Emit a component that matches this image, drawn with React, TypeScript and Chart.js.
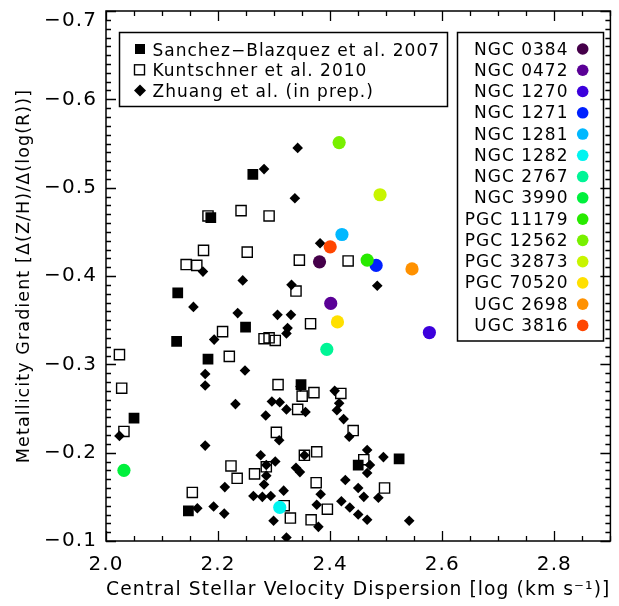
import { useEffect, useRef } from 'react';
import { Chart, registerables } from 'chart.js';

Chart.register(...registerables);

const FONT = '"DejaVu Sans", sans-serif';

// Sanchez-Blazquez et al. 2007 (filled squares)
const sanchezSigma = [2.262, 2.187, 2.128, 2.249, 2.126, 2.182, 2.050, 2.348, 2.147, 2.450, 2.523];
const sanchezGrad = [-0.515, -0.466, -0.381, -0.342, -0.326, -0.306, -0.239, -0.277, -0.134, -0.186, -0.193];

// Kuntschner et al. 2010 (open squares)
const kuntschnerSigma = [
  2.182, 2.241, 2.291, 2.174, 2.252, 2.143, 2.162, 2.345, 2.432, 2.339,
  2.208, 2.024, 2.220, 2.028, 2.032, 2.365, 2.282, 2.291, 2.302, 2.307,
  2.350, 2.371, 2.419, 2.342, 2.304, 2.441, 2.354, 2.376, 2.460, 2.265,
  2.286, 2.375, 2.497, 2.318, 2.395, 2.329, 2.366, 2.223, 2.234, 2.154,
];
const kuntschnerGrad = [
  -0.468, -0.474, -0.468, -0.429, -0.427, -0.413, -0.412, -0.418, -0.417, -0.383,
  -0.337, -0.311, -0.309, -0.273, -0.224, -0.346, -0.329, -0.330, -0.327, -0.277,
  -0.264, -0.268, -0.267, -0.249, -0.223, -0.225, -0.197, -0.201, -0.192, -0.176,
  -0.184, -0.166, -0.160, -0.140, -0.136, -0.126, -0.124, -0.185, -0.171, -0.155,
];

// Zhuang et al. (in prep.) (diamonds)
const zhuangSigma = [
  2.342, 2.282, 2.337, 2.173, 2.244, 2.331, 2.382, 2.484, 2.156, 2.235,
  2.306, 2.330, 2.324, 2.322, 2.193, 2.177, 2.248, 2.177, 2.231, 2.347,
  2.408, 2.296, 2.310, 2.322, 2.356, 2.285, 2.416, 2.412, 2.424, 2.024,
  2.177, 2.309, 2.434, 2.276, 2.286, 2.302, 2.339, 2.346, 2.354, 2.466,
  2.495, 2.471, 2.466, 2.286, 2.282, 2.212, 2.263, 2.279, 2.294, 2.317,
  2.383, 2.427, 2.450, 2.460, 2.486, 2.376, 2.420, 2.435, 2.450, 2.466,
  2.541, 2.163, 2.192, 2.211, 2.299, 2.379, 2.322,
];
const zhuangGrad = [
  -0.545, -0.521, -0.488, -0.405, -0.395, -0.390, -0.437, -0.389, -0.365, -0.358,
  -0.356, -0.356, -0.341, -0.335, -0.328, -0.289, -0.293, -0.276, -0.255, -0.275,
  -0.270, -0.258, -0.257, -0.249, -0.246, -0.242, -0.256, -0.248, -0.238, -0.219,
  -0.208, -0.214, -0.218, -0.197, -0.186, -0.190, -0.183, -0.178, -0.197, -0.203,
  -0.195, -0.186, -0.177, -0.174, -0.164, -0.161, -0.151, -0.150, -0.151, -0.157,
  -0.153, -0.169, -0.160, -0.150, -0.149, -0.141, -0.145, -0.138, -0.130, -0.124,
  -0.123, -0.137, -0.139, -0.131, -0.123, -0.116, -0.104,
];

// Individual galaxies (coloured circles)
const galaxyNames = [
  'NGC 0384', 'NGC 0472', 'NGC 1270', 'NGC 1271', 'NGC 1281', 'NGC 1282', 'NGC 2767',
  'NGC 3990', 'PGC 11179', 'PGC 12562', 'PGC 32873', 'PGC 70520', 'UGC 2698', 'UGC 3816',
];
const galaxySigma = [2.381, 2.401, 2.577, 2.482, 2.421, 2.310, 2.394, 2.032, 2.466, 2.416, 2.489, 2.413, 2.546, 2.400];
const galaxyGrad = [-0.416, -0.369, -0.336, -0.412, -0.447, -0.138, -0.317, -0.180, -0.418, -0.551, -0.492, -0.348, -0.408, -0.433];
const galaxyColors = [
  '#45004a', '#5a0096', '#3c00dc', '#0020ff', '#00b8ff', '#00f4f0', '#00f596',
  '#00f03c', '#28ea00', '#78f000', '#c8f500', '#ffe000', '#ff9100', '#ff4600',
];

const surveyLabels = ['Sanchez\u2212Blazquez et al. 2007', 'Kuntschner et al. 2010', 'Zhuang et al. (in prep.)'];

const xTickValues = [2.0, 2.2, 2.4, 2.6, 2.8];
const yTickValues = [-0.7, -0.6, -0.5, -0.4, -0.3, -0.2, -0.1];

const xTitle = 'Central Stellar Velocity Dispersion [log (km s\u207B\u00B9)]';
const yTitle = 'Metallicity Gradient [\u0394(Z/H)/\u0394(log(R))]';

const pts = (xs: number[], ys: number[]) => xs.map((x, i) => ({ x, y: ys[i] }));
const fmt = (v: number) => (v < 0 ? '\u2212' : '') + Math.abs(v).toFixed(1);

// Wide letter spacing for every piece of text on the canvas
const spacingPlugin = {
  id: 'spacing',
  beforeDraw(chart: any) {
    chart.ctx.letterSpacing = '1.1px';
  },
};

// Frame with inward major/minor ticks on all four sides, plus the two legend boxes
const framePlugin = {
  id: 'frame',
  afterDraw(chart: any) {
    const { ctx, chartArea: a, scales } = chart;
    const xs = scales.x;
    const ys = scales.y;
    ctx.save();
    ctx.strokeStyle = '#000';
    ctx.lineWidth = 1.5;
    ctx.strokeRect(a.left, a.top, a.right - a.left, a.bottom - a.top);

    ctx.lineWidth = 1.3;
    ctx.beginPath();
    for (let i = 0; i <= 18; i++) {
      const v = 2.0 + i * 0.05;
      const px = Math.round(xs.getPixelForValue(v)) + 0.5;
      const len = i % 4 === 0 ? 10 : 5;
      ctx.moveTo(px, a.bottom);
      ctx.lineTo(px, a.bottom - len);
      ctx.moveTo(px, a.top);
      ctx.lineTo(px, a.top + len);
    }
    for (let i = 0; i <= 60; i++) {
      const v = -0.7 + i * 0.01;
      const py = Math.round(ys.getPixelForValue(v)) + 0.5;
      const len = i % 10 === 0 ? 10 : 5;
      ctx.moveTo(a.left, py);
      ctx.lineTo(a.left + len, py);
      ctx.moveTo(a.right, py);
      ctx.lineTo(a.right - len, py);
    }
    ctx.stroke();

    ctx.letterSpacing = '1px';

    // survey legend
    const l1x = a.left + 13.5;
    const l1y = a.top + 21.5;
    ctx.lineWidth = 1.5;
    ctx.strokeRect(l1x, l1y, 328, 74);
    ctx.font = `17px ${FONT}`;
    ctx.fillStyle = '#000';
    ctx.textBaseline = 'alphabetic';
    ctx.textAlign = 'left';
    surveyLabels.forEach((label, i) => {
      const base = l1y + 23 + i * 20.8;
      const cx = l1x + 20.5;
      const cy = base - 6.5;
      if (i === 0) {
        ctx.fillRect(cx - 5, cy - 5, 10, 10);
      } else if (i === 1) {
        ctx.lineWidth = 1.4;
        ctx.strokeRect(cx - 5.5, cy - 5, 10, 10);
      } else {
        ctx.beginPath();
        ctx.moveTo(cx, cy - 6);
        ctx.lineTo(cx + 6, cy);
        ctx.lineTo(cx, cy + 6);
        ctx.lineTo(cx - 6, cy);
        ctx.closePath();
        ctx.fill();
      }
      ctx.fillText(label, l1x + 33, base);
    });

    // galaxy legend
    const l2x = a.left + 351.5;
    const l2y = a.top + 21.5;
    ctx.lineWidth = 1.5;
    ctx.strokeRect(l2x, l2y, 146, 308.5);
    ctx.textAlign = 'right';
    galaxyNames.forEach((name, i) => {
      const base = l2y + 22 + i * 21.26;
      ctx.fillStyle = '#000';
      ctx.fillText(name, l2x + 111, base);
      ctx.fillStyle = galaxyColors[i];
      ctx.beginPath();
      ctx.arc(l2x + 125.2, base - 5.5, 5.8, 0, Math.PI * 2);
      ctx.fill();
    });
    ctx.restore();
  },
};

export default function App() {
  const ref = useRef<HTMLCanvasElement>(null);

  useEffect(() => {
    if (!ref.current) return;
    const chart = new Chart(ref.current, {
      type: 'scatter',
      data: {
        datasets: [
          {
            label: galaxyNames.join(', '),
            data: pts(galaxySigma, galaxyGrad),
            pointStyle: 'circle',
            pointRadius: 6.6,
            pointBackgroundColor: galaxyColors,
            pointBorderWidth: 0,
            order: 0,
          },
          {
            label: surveyLabels[2],
            data: pts(zhuangSigma, zhuangGrad),
            pointStyle: 'rectRot',
            pointRadius: 5.3,
            pointBackgroundColor: '#000',
            pointBorderWidth: 0,
            order: 1,
          },
          {
            label: surveyLabels[0],
            data: pts(sanchezSigma, sanchezGrad),
            pointStyle: 'rect',
            pointRadius: 7.6,
            pointBackgroundColor: '#000',
            pointBorderWidth: 0,
            order: 2,
          },
          {
            label: surveyLabels[1],
            data: pts(kuntschnerSigma, kuntschnerGrad),
            pointStyle: 'rect',
            pointRadius: 7.2,
            pointBackgroundColor: 'rgba(0,0,0,0)',
            pointBorderColor: '#000',
            pointBorderWidth: 1.4,
            order: 3,
          },
        ],
      },
      options: {
        responsive: false,
        animation: false,
        events: [],
        layout: { padding: { top: 11, right: 3, left: 0, bottom: 0 } },
        plugins: { legend: { display: false }, tooltip: { enabled: false } },
        scales: {
          x: {
            type: 'linear',
            min: 2.0,
            max: 2.9,
            afterBuildTicks: (s: any) => {
              s.ticks = xTickValues.map((value) => ({ value }));
            },
            afterFit: (s: any) => {
              s.height = 65;
              s.paddingLeft = 0;
              s.paddingRight = 0;
            },
            grid: { display: false, drawTicks: false },
            border: { display: false },
            ticks: {
              color: '#000',
              font: { family: FONT, size: 20 },
              padding: 12,
              maxRotation: 0,
              autoSkip: false,
              callback: (v: any) => fmt(Number(v)),
            },
            title: {
              display: true,
              text: xTitle,
              color: '#000',
              font: { family: FONT, size: 19 },
              padding: { top: 0, bottom: 5 },
            },
          },
          y: {
            type: 'linear',
            reverse: true,
            min: -0.7,
            max: -0.1,
            afterBuildTicks: (s: any) => {
              s.ticks = yTickValues.map((value) => ({ value }));
            },
            afterFit: (s: any) => {
              s.width = 106;
              s.paddingTop = 0;
              s.paddingBottom = 0;
            },
            grid: { display: false, drawTicks: false },
            border: { display: false },
            ticks: {
              color: '#000',
              font: { family: FONT, size: 20, lineHeight: 0.95 },
              padding: 9,
              autoSkip: false,
              // the top label sits just below the upper edge of the frame
              callback: (v: any) => (Number(v) === -0.7 ? ['', fmt(Number(v))] : fmt(Number(v))),
            },
            title: {
              display: true,
              text: yTitle,
              color: '#000',
              font: { family: FONT, size: 17.5 },
              padding: { top: 14, bottom: 0 },
            },
          },
        },
      },
      plugins: [spacingPlugin, framePlugin],
    });
    return () => chart.destroy();
  }, []);

  return (
    <div style={{ position: 'fixed', left: 0, top: 0, width: 619, height: 606, background: '#fff' }}>
      <canvas ref={ref} width={619} height={606} style={{ display: 'block' }} />
    </div>
  );
}
